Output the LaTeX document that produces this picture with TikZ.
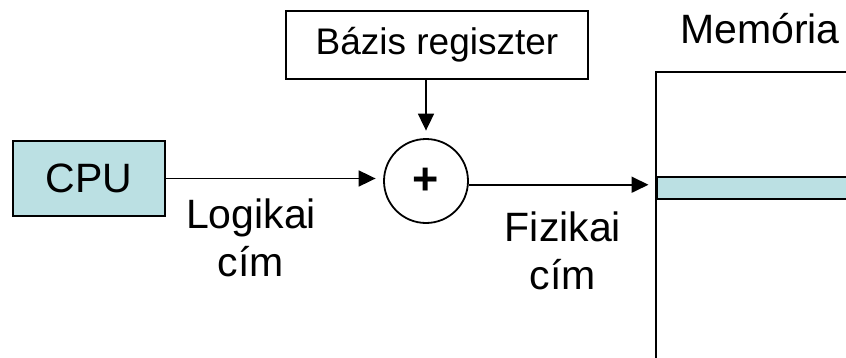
\documentclass[tikz,border=0pt]{standalone}
\usepackage{fontspec}
\setmainfont{Liberation Sans}
\usetikzlibrary{arrows.meta}
\definecolor{halvanykek}{HTML}{BBE0E3}

\begin{document}
\begin{tikzpicture}[x=1pt, y=1pt, line width=1.8pt,
    font=\fontsize{41}{48}\selectfont,
    doboz/.style={draw, rectangle, inner sep=0pt},
    nyil/.style={-{Triangle[length=17pt, width=16pt]}, shorten >=7.5pt}]
    \clip (0, 0) rectangle (846, 357);
    \coordinate (C) at (89, 178.5);
    \coordinate (B) at (437, 312);
    \coordinate (S) at (426, 176);
    \coordinate (M) at (656, 169);
    \node[doboz, fill=halvanykek, minimum width=152pt, minimum height=75pt] (cpu) at (C) {CPU};
    \node[doboz, minimum width=302pt, minimum height=68pt, font=\fontsize{37}{42}\selectfont] (bazis) at (B) {Bázis regiszter};
    \node[draw, circle, minimum size=84pt, inner sep=0pt, font=\fontsize{45}{48}\selectfont\bfseries] (osszeg) at (S) {+};
    \draw (656, -10) rectangle (900, 285);
    \node[doboz, fill=halvanykek, anchor=west, minimum width=220pt, minimum height=22pt] (cella) at (M) {};
    \node[anchor=base] (memoria) at (760, 313) {Memória};
    \node[align=center, inner sep=0pt] (logikai) at (251, 119) {Logikai\\cím};
    \node[align=center, inner sep=0pt] (fizikai) at (563, 106) {Fizikai\\cím};
    \draw[nyil] (cpu.east) -- (cpu.east -| osszeg.west);
    \draw[nyil] (osszeg.north |- bazis.south) -- (osszeg.north);
    \draw[nyil] (osszeg.-5) -- (osszeg.-5 -| cella.west);
\end{tikzpicture}
\end{document}
